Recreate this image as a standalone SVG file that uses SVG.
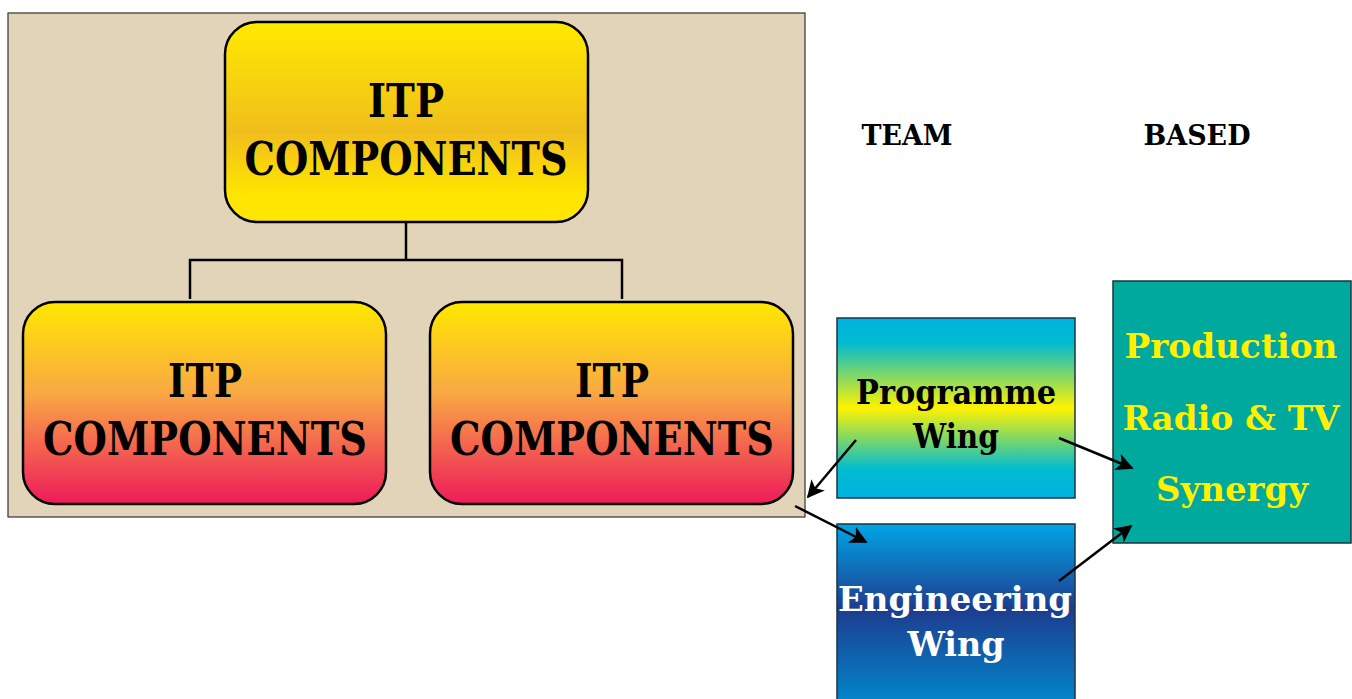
<svg xmlns="http://www.w3.org/2000/svg" width="1352" height="699" viewBox="0 0 1352 699">
<defs>
<linearGradient id="gTop" x1="0" y1="0" x2="0" y2="1">
<stop offset="0" stop-color="#FFEA00"/>
<stop offset="0.55" stop-color="#F0BE1C"/>
<stop offset="0.85" stop-color="#FFE400"/>
<stop offset="1" stop-color="#FFE800"/>
</linearGradient>
<linearGradient id="gBot" x1="0" y1="0" x2="0" y2="1">
<stop offset="0" stop-color="#FFE800"/>
<stop offset="0.45" stop-color="#F9A844"/>
<stop offset="1" stop-color="#EE1A5A"/>
</linearGradient>
<linearGradient id="gProg" x1="0" y1="0" x2="0" y2="1">
<stop offset="0" stop-color="#00B2E0"/>
<stop offset="0.14" stop-color="#00BCD0"/>
<stop offset="0.5" stop-color="#FFF200"/>
<stop offset="0.84" stop-color="#00BCD0"/>
<stop offset="1" stop-color="#00B2E0"/>
</linearGradient>
<linearGradient id="gEng" x1="0" y1="0" x2="0" y2="1">
<stop offset="0" stop-color="#00A6E6"/>
<stop offset="0.47" stop-color="#1E3C8E"/>
<stop offset="1" stop-color="#0088CC"/>
</linearGradient>
<marker id="arr" viewBox="0 0 10 10" refX="9" refY="5" markerWidth="7.5" markerHeight="7" orient="auto" markerUnits="strokeWidth">
<path d="M0,0 L10,5 L0,10 L2.5,5 Z" fill="#000"/>
</marker>
</defs>
<style>
.t{font-family:"DejaVu Serif","Liberation Serif",serif;font-weight:bold;text-anchor:middle}
.itp{font-size:46px;fill:#000}
.box{stroke:#000;stroke-width:2.5}
.sq{stroke:#1d3440;stroke-width:1.5}
.conn{fill:none;stroke:#000;stroke-width:2.5}
</style>
<rect width="1352" height="699" fill="#fff"/>
<g id="panel">
<rect x="8" y="13" width="797" height="504" fill="#E2D4B8" stroke="#333" stroke-width="1.2"/>
</g>
<g id="tree-lines">
<path class="conn" d="M406,222 V260 M190,299 V260 H622 V299"/>
</g>
<g id="top">
<rect class="box" x="225" y="22" width="363" height="200" rx="32" fill="url(#gTop)"/>
<text class="t itp" x="406" y="117" textLength="76" lengthAdjust="spacingAndGlyphs">ITP</text>
<text class="t itp" x="406" y="175" textLength="323" lengthAdjust="spacingAndGlyphs">COMPONENTS</text>
</g>
<g id="left">
<rect class="box" x="23" y="302" width="363" height="202" rx="32" fill="url(#gBot)"/>
<text class="t itp" x="205" y="397" textLength="74" lengthAdjust="spacingAndGlyphs">ITP</text>
<text class="t itp" x="205" y="455" textLength="324" lengthAdjust="spacingAndGlyphs">COMPONENTS</text>
</g>
<g id="right">
<rect class="box" x="430" y="302" width="363" height="202" rx="32" fill="url(#gBot)"/>
<text class="t itp" x="612" y="397" textLength="74" lengthAdjust="spacingAndGlyphs">ITP</text>
<text class="t itp" x="612" y="455" textLength="324" lengthAdjust="spacingAndGlyphs">COMPONENTS</text>
</g>
<g id="team">
<text class="t" x="907" y="145" font-size="28" textLength="91" lengthAdjust="spacingAndGlyphs">TEAM</text>
</g>
<g id="based">
<text class="t" x="1197" y="145" font-size="28" textLength="107" lengthAdjust="spacingAndGlyphs">BASED</text>
</g>
<g id="programme">
<rect class="sq" x="837" y="318" width="238" height="180" fill="url(#gProg)"/>
<text class="t" x="956" y="404" font-size="33" fill="#000" textLength="200" lengthAdjust="spacingAndGlyphs">Programme</text>
<text class="t" x="956" y="448" font-size="33" fill="#000" textLength="86" lengthAdjust="spacingAndGlyphs">Wing</text>
</g>
<g id="engineering">
<rect class="sq" x="837" y="524" width="238" height="180" fill="url(#gEng)"/>
<text class="t" x="955" y="611" font-size="34" fill="#fff" textLength="234" lengthAdjust="spacingAndGlyphs">Engineering</text>
<text class="t" x="956" y="656" font-size="34" fill="#fff" textLength="97" lengthAdjust="spacingAndGlyphs">Wing</text>
</g>
<g id="production">
<rect class="sq" x="1113" y="281" width="238" height="262" fill="#00A99D"/>
<text class="t" x="1231" y="358" font-size="34" fill="#FFF000" textLength="213" lengthAdjust="spacingAndGlyphs">Production</text>
<text class="t" x="1231" y="430" font-size="34" fill="#FFF000" textLength="217" lengthAdjust="spacingAndGlyphs">Radio &amp; TV</text>
<text class="t" x="1232" y="501" font-size="34" fill="#FFF000" textLength="152" lengthAdjust="spacingAndGlyphs">Synergy</text>
</g>
<g id="connectors">
<line class="conn" x1="856" y1="440" x2="808" y2="497" marker-end="url(#arr)"/>
<line class="conn" x1="795" y1="506" x2="866" y2="542" marker-end="url(#arr)"/>
<line class="conn" x1="1059" y1="438" x2="1132" y2="468" marker-end="url(#arr)"/>
<line class="conn" x1="1059" y1="581" x2="1131" y2="526" marker-end="url(#arr)"/>
</g>
</svg>
